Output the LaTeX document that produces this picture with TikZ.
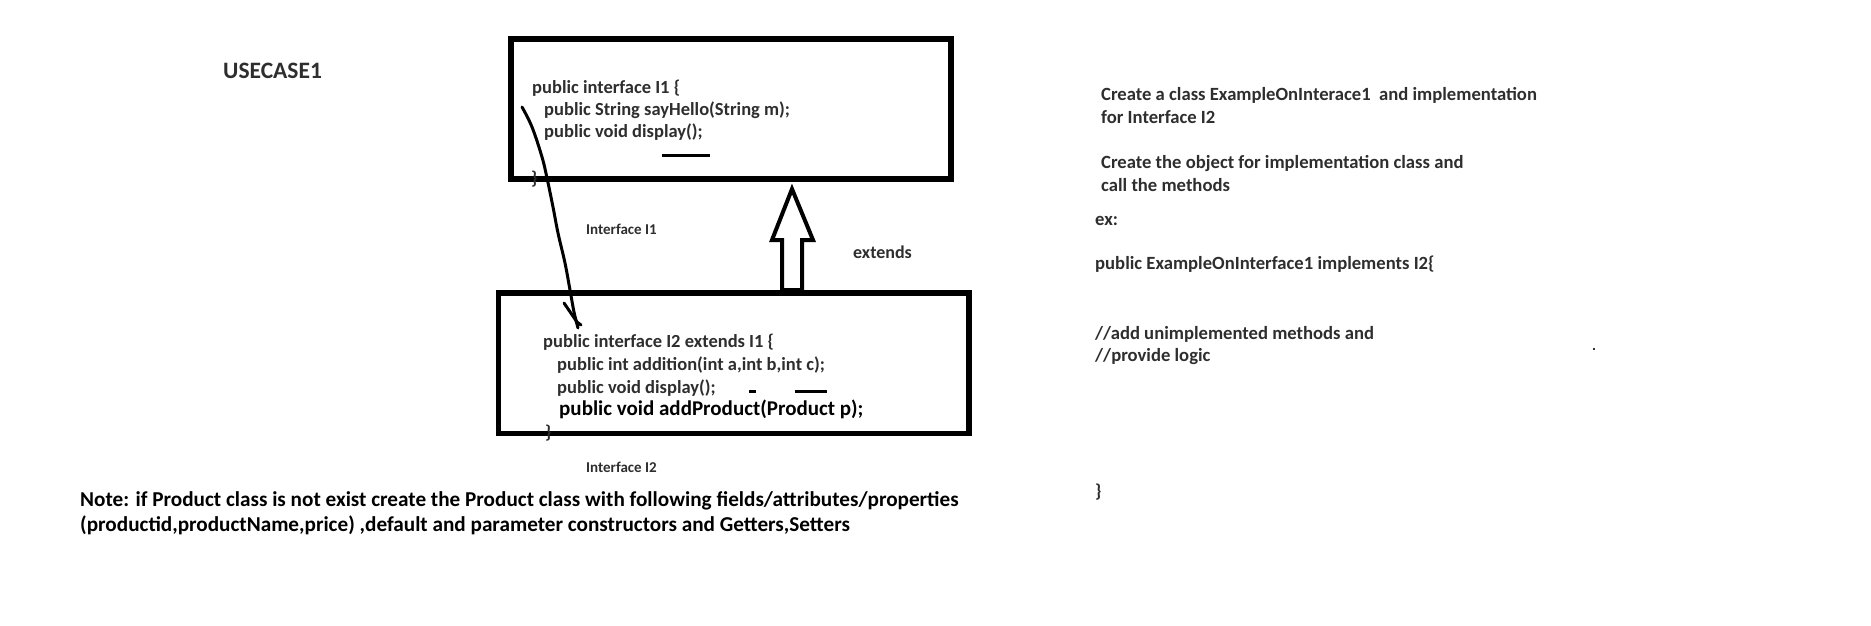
\documentclass[tikz,border=0pt]{standalone}
\usepackage{fontspec}
\setmainfont{Carlito}
\begin{document}
\begin{tikzpicture}[x=1pt,y=-1pt,
  txt/.style={anchor=base west,inner sep=0pt,font=\bfseries\fontsize{#1}{#1}\selectfont,text=black!82},
  txt/.default=18.5,
  frame/.style={draw=black,line width=5.5pt,inner sep=0pt,outer sep=0pt},
  pen/.style={line width=3pt,line cap=round,line join=round}]
\useasboundingbox (0,0) rectangle (1871,625);
\fill[white] (0,0) rectangle (1871,625);

% heading
\node[txt=23.5] (title) at (223,78) {USECASE1};

% interface I1
\node[frame,minimum width=440pt,minimum height=140pt,anchor=north west] (boxA) at (511,39) {};
\node[txt] (a1) at (532,93) {public interface I1 \{};
\node[txt] (a2) at (544,115) {public String sayHello(String m);};
\node[txt] (a3) at (544,137) {public void display();};
\node[txt] (a4) at (531,184) {\}};
\draw[line width=3pt] (662,155) -- (710,155);

% interface I2
\node[frame,minimum width=470.5pt,minimum height=140.7pt,anchor=north west] (boxB) at (498.5,293) {};
\node[txt] (b1) at (543,347) {public interface I2 extends I1 \{};
\node[txt] (b2) at (557,370) {public int addition(int a,int b,int c);};
\node[txt] (b3) at (557,393) {public void display();};
\node[txt=21,text=black] (b4) at (559,415) {public void addProduct(Product p);};
\node[txt] (b5) at (545,438) {\}};
\draw[line width=3pt] (749,391) -- (756,391);
\draw[line width=3pt] (795,391) -- (827,391);

% labels
\node[txt=15] (lab1) at (586,234) {Interface I1};
\node[txt=18] (lab2) at (853,258) {extends};
\node[txt=15] (lab3) at (586,472) {Interface I2};

% hollow block arrow between the boxes
\draw[line width=4pt,line join=miter] (792,189) -- (813,240) -- (802,240) -- (802,290)
  -- (782,290) -- (782,240) -- (772,240) -- cycle;

% freehand stroke
\draw[pen] plot[smooth,tension=0.6] coordinates {(522,107) (532,127) (542,157) (547,178)
  (553,207) (558,233) (565,263) (570,290) (574,312) (578,328)};
\draw[pen] (564,303) -- (577,322) -- (581,325);

% note
\node[txt=21.2,text=black] (n1) at (80,506) {Note: if Product class is not exist create the Product class with following fields/attributes/properties};
\node[txt=21.2,text=black] (n2) at (80,531) {(productid,productName,price) ,default and parameter constructors and Getters,Setters};

% right column
\begin{scope}[every node/.style={txt=18.65}]
\node (r1) at (1101,100.5) {Create a class ExampleOnInterace1\ \ and implementation};
\node (r2) at (1101,123.5) {for Interface I2};
\node (r3) at (1101,168.5) {Create the object for implementation class and};
\node (r4) at (1101,191.5) {call the methods};
\node (r5) at (1095,225.5) {ex:};
\node (r6) at (1095,269.5) {public ExampleOnInterface1 implements I2\{};
\node (r7) at (1095,339.5) {//add unimplemented methods and};
\node (r8) at (1095,361.5) {//provide logic};
\node (r9) at (1095,497.5) {\}};
\end{scope}
\fill[black!80] (1593,348) rectangle (1595,350);
\end{tikzpicture}
\end{document}
